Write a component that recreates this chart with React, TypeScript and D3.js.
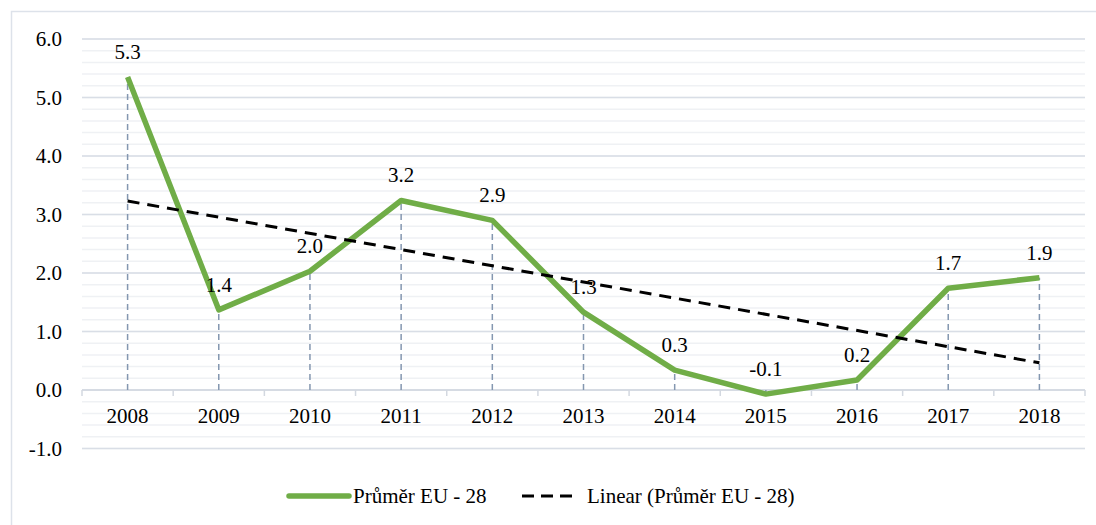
import React from "react";
import * as d3 from "d3";

const years = ["2008", "2009", "2010", "2011", "2012", "2013", "2014", "2015", "2016", "2017", "2018"];
const values = [5.35, 1.37, 2.03, 3.24, 2.9, 1.33, 0.34, -0.07, 0.17, 1.74, 1.92];
const labels = ["5.3", "1.4", "2.0", "3.2", "2.9", "1.3", "0.3", "-0.1", "0.2", "1.7", "1.9"];
const yTicks = [-1, 0, 1, 2, 3, 4, 5, 6];
const seriesName = "Průměr EU - 28";
const trendName = "Linear (Průměr EU - 28)";

const W = 1096;
const H = 525;
const FONT = "'Liberation Serif', 'Times New Roman', Times, 'DejaVu Serif', serif";

export default function App() {
  const x = d3.scaleBand<string>().domain(years).range([82, 1085]);
  const y = d3.scaleLinear().domain([-1, 6]).range([448.5, 39]);
  const cx = (yr: string) => (x(yr) as number) + x.bandwidth() / 2;

  // linear regression for trend
  const n = values.length;
  const xs = d3.range(n);
  const mx = d3.mean(xs) as number;
  const my = d3.mean(values) as number;
  const slope =
    d3.sum(xs.map((xi, i) => (xi - mx) * (values[i] - my))) / d3.sum(xs.map((xi) => (xi - mx) ** 2));
  const intercept = my - slope * mx;
  const trend = xs.map((xi) => intercept + slope * xi);

  const line = d3
    .line<number>()
    .x((_, i) => cx(years[i]))
    .y((d) => y(d));

  const minorTicks = d3.range(-1, 6.0001, 0.2).map((v) => Math.round(v * 10) / 10);
  const txt = { fontFamily: FONT, fontSize: 21, fill: "#000" } as React.CSSProperties;

  return (
    <svg
      width={W}
      height={H}
      style={{ position: "fixed", left: 0, top: 0, display: "block", background: "#fff", fontFamily: FONT }}
    >
      <rect x={0} y={0} width={W} height={H} fill="#fff" />
      {/* outer border */}
      <path d={`M11.5,${H + 2} L11.5,11.5 L${W + 2},11.5`} fill="none" stroke="#dde2ea" strokeWidth={1.5} />

      {/* minor gridlines */}
      {minorTicks.map((v) => (
        <line key={"mn" + v} x1={82} x2={1085} y1={y(v)} y2={y(v)} stroke="#eff1f4" strokeWidth={1.5} />
      ))}
      {/* major gridlines */}
      {yTicks.map((v) => (
        <line key={"mj" + v} x1={82} x2={1085} y1={y(v)} y2={y(v)} stroke="#d9dee6" strokeWidth={1.5} />
      ))}

      {/* category axis */}
      <line x1={82} x2={1085} y1={y(0)} y2={y(0)} stroke="#d3d8e0" strokeWidth={1.5} />
      {years.concat(["end"]).map((yr, i) => {
        const xx = 82 + i * x.bandwidth();
        return <line key={"tk" + i} x1={xx} x2={xx} y1={y(0)} y2={y(0) + 6} stroke="#d3d8e0" strokeWidth={1.5} />;
      })}

      {/* y tick labels */}
      {yTicks.map((v) => (
        <text key={"yl" + v} x={62} y={y(v) + 7} textAnchor="end" style={txt}>
          {v.toFixed(1)}
        </text>
      ))}

      {/* x labels */}
      {years.map((yr) => (
        <text key={"xl" + yr} x={cx(yr)} y={y(0) + 33} textAnchor="middle" style={txt}>
          {yr}
        </text>
      ))}

      {/* drop lines */}
      {values.map((v, i) => (
        <line
          key={"dl" + i}
          x1={cx(years[i])}
          x2={cx(years[i])}
          y1={y(0)}
          y2={y(v)}
          stroke="#8497b0"
          strokeWidth={1.5}
          strokeDasharray="6,4"
        />
      ))}

      {/* series line */}
      <path d={line(values) as string} fill="none" stroke="#70ad47" strokeWidth={5.5} strokeLinejoin="round" />

      {/* trend line */}
      <path
        d={`M${cx(years[0])},${y(trend[0])} L${cx(years[n - 1])},${y(trend[n - 1])}`}
        fill="none"
        stroke="#000"
        strokeWidth={3}
        strokeDasharray="12,8"
      />

      {/* data labels */}
      {values.map((v, i) => (
        <text key={"lb" + i} x={cx(years[i])} y={y(v) - 18} textAnchor="middle" style={txt}>
          {labels[i]}
        </text>
      ))}

      {/* legend */}
      <line x1={289} x2={349} y1={496} y2={496} stroke="#70ad47" strokeWidth={5.5} strokeLinecap="round" />
      <text x={353} y={503} style={txt}>
        {seriesName}
      </text>
      <line x1={522} x2={572} y1={496} y2={496} stroke="#000" strokeWidth={3} strokeDasharray="12,7" />
      <text x={587} y={503} style={txt}>
        {trendName}
      </text>
    </svg>
  );
}
